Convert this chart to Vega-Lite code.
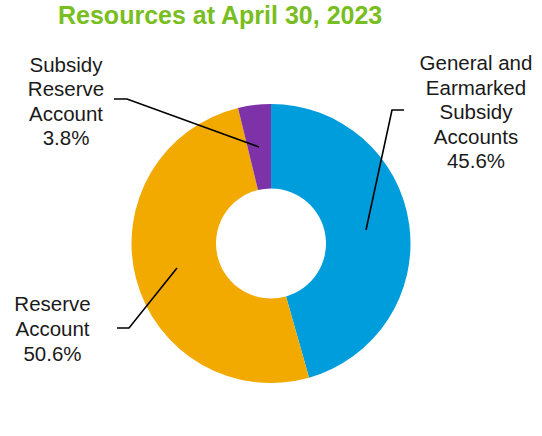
{
  "$schema": "https://vega.github.io/schema/vega-lite/v6.json",
  "width": 542,
  "height": 385,
  "autosize": {"type": "none"},
  "padding": {"top": 51, "left": 0, "right": 0, "bottom": 0},
  "background": "white",
  "title": {
    "text": "Resources at April 30, 2023",
    "color": "#78be20",
    "font": "Liberation Sans",
    "fontSize": 25,
    "fontWeight": "bold",
    "anchor": "start",
    "frame": "group",
    "dx": 58,
    "offset": 22
  },
  "config": {"view": {"stroke": null}},
  "datasets": {
    "shares": [
      {"account": "General and Earmarked Subsidy Accounts", "share": 45.6, "rank": 1},
      {"account": "Reserve Account", "share": 50.6, "rank": 2},
      {"account": "Subsidy Reserve Account", "share": 3.8, "rank": 3}
    ],
    "leaders": [
      {"label": "sra", "step": 1, "x": -1.1254, "y": 1.0358},
      {"label": "sra", "step": 2, "x": -1.0323, "y": 1.0358},
      {"label": "sra", "step": 3, "x": -0.086, "y": 0.6918},
      {"label": "gen", "step": 1, "x": 0.9534, "y": 0.957},
      {"label": "gen", "step": 2, "x": 0.8674, "y": 0.957},
      {"label": "gen", "step": 3, "x": 0.681, "y": 0.0968},
      {"label": "res", "step": 1, "x": -1.1039, "y": -0.6057},
      {"label": "res", "step": 2, "x": -1.0179, "y": -0.6057},
      {"label": "res", "step": 3, "x": -0.6738, "y": -0.1756}
    ],
    "labels": [
      {"text": "Subsidy\nReserve\nAccount\n3.8%", "x": -1.4695, "y": 1.2757},
      {"text": "General and\nEarmarked\nSubsidy\nAccounts\n45.6%", "x": 1.4695, "y": 1.2865},
      {"text": "Reserve\nAccount\n50.6%", "x": -1.5663, "y": -0.4433}
    ]
  },
  "layer": [
    {
      "data": {"name": "shares"},
      "mark": {"type": "arc", "outerRadius": 139.5, "innerRadius": 55},
      "encoding": {
        "theta": {"field": "share", "type": "quantitative", "stack": true},
        "order": {"field": "rank", "type": "quantitative"},
        "color": {
          "field": "account",
          "type": "nominal",
          "scale": {
            "domain": ["General and Earmarked Subsidy Accounts", "Reserve Account", "Subsidy Reserve Account"],
            "range": ["#009ddc", "#f2a900", "#7d32a8"]
          },
          "legend": null
        }
      }
    },
    {
      "data": {"name": "leaders"},
      "mark": {"type": "line", "color": "black", "strokeWidth": 1.6},
      "encoding": {
        "x": {"field": "x", "type": "quantitative", "scale": {"domain": [-1.9427, 1.9427], "zero": false, "nice": false}, "axis": null},
        "y": {"field": "y", "type": "quantitative", "scale": {"domain": [-1.3799, 1.3799], "zero": false, "nice": false}, "axis": null},
        "detail": {"field": "label", "type": "nominal"},
        "order": {"field": "step", "type": "quantitative"}
      }
    },
    {
      "data": {"name": "labels"},
      "mark": {"type": "text", "font": "Liberation Sans", "fontSize": 20.5, "lineHeight": 24.6, "baseline": "middle", "align": "center", "lineBreak": "\n", "color": "#1a1a1a"},
      "encoding": {
        "x": {"field": "x", "type": "quantitative"},
        "y": {"field": "y", "type": "quantitative"},
        "text": {"field": "text", "type": "nominal"}
      }
    }
  ]
}
